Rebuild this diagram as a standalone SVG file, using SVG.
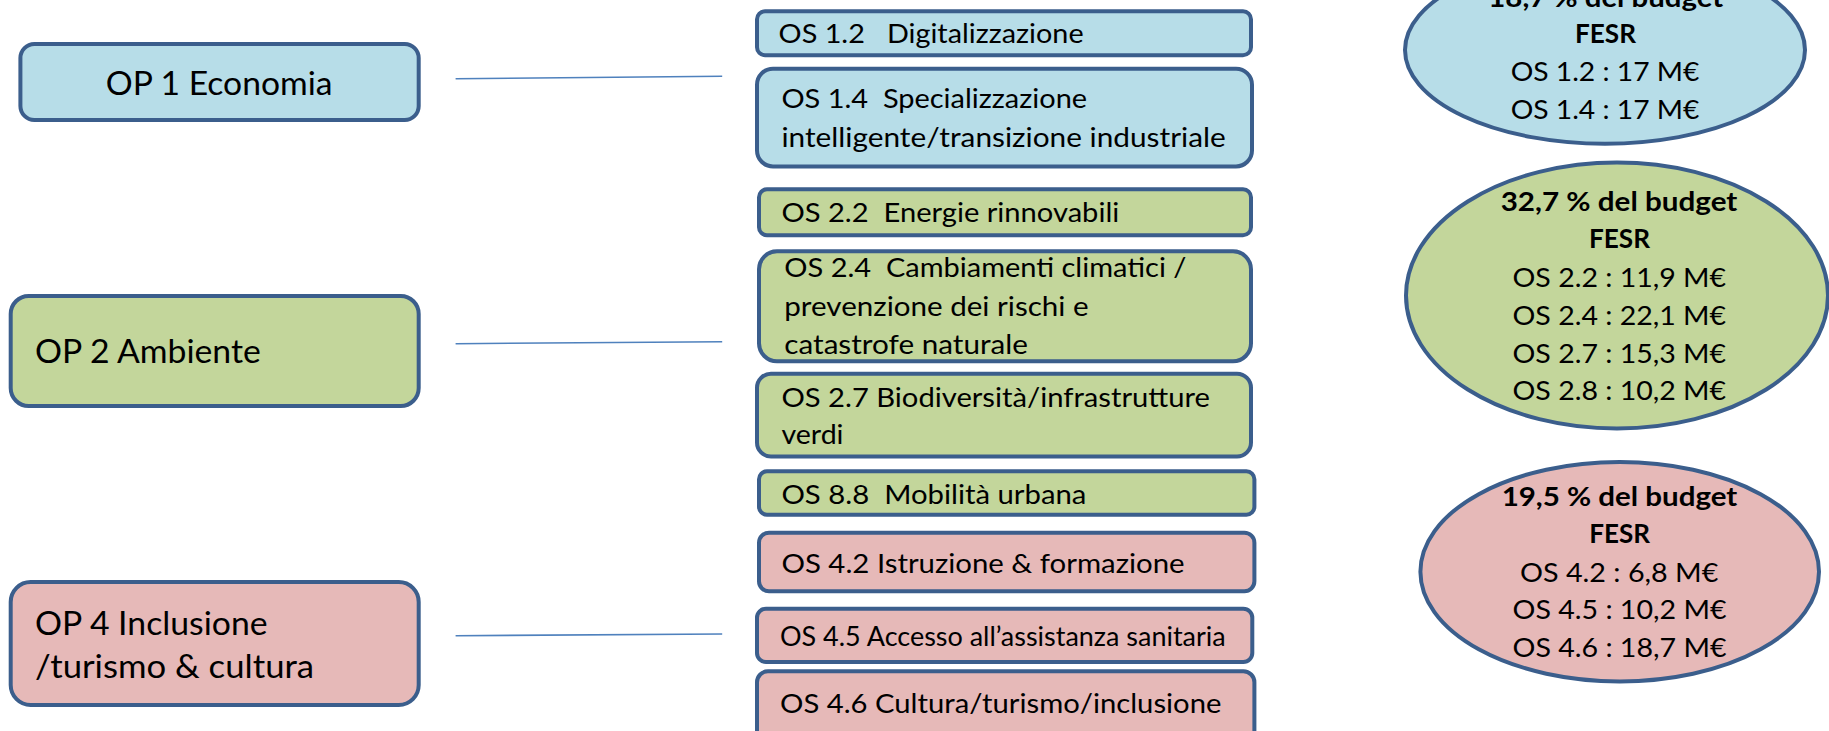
<svg xmlns="http://www.w3.org/2000/svg" width="1829" height="731" viewBox="0 0 1829 731">
<style>
.bx{stroke:#3b5e8c;stroke-width:4}
.blue{fill:#b7dde8}
.green{fill:#c3d69b}
.pink{fill:#e6b9b8}
text{font-family:Lato,"Open Sans","Liberation Sans",sans-serif;fill:#000}
.op{font-size:32px}
.os{font-size:27.5px}
.el{font-size:26.5px;text-anchor:middle}
.b{font-weight:bold}
.conn{stroke:#4f81bd;stroke-width:1.6;fill:none}
</style>
<rect width="1829" height="731" fill="#fff"/>
<g id="connectors">
<line class="conn" x1="455.6" y1="78.7" x2="722.2" y2="76.3"/>
<line class="conn" x1="455.6" y1="343.7" x2="722.2" y2="341.7"/>
<line class="conn" x1="455.6" y1="635.7" x2="722.2" y2="634"/>
</g>
<g id="op1">
<rect class="bx blue" x="20.4" y="44" width="398.3" height="76" rx="14"/>
<text class="op" x="105.7" y="95" textLength="226.8" lengthAdjust="spacingAndGlyphs">OP 1 Economia</text>
</g>
<g id="op2">
<rect class="bx green" x="10.7" y="296" width="408" height="110" rx="18"/>
<text class="op" x="34.9" y="363" textLength="225.9" lengthAdjust="spacingAndGlyphs">OP 2 Ambiente</text>
</g>
<g id="op4">
<rect class="bx pink" x="10.7" y="582" width="408" height="123" rx="20"/>
<text class="op" x="34.9" y="635" textLength="232.7" lengthAdjust="spacingAndGlyphs">OP 4 Inclusione</text>
<text class="op" x="34.9" y="678" textLength="279.2" lengthAdjust="spacingAndGlyphs">/turismo &amp; cultura</text>
</g>
<g id="os12">
<rect class="bx blue" x="757" y="11.3" width="494" height="44" rx="8"/>
<text class="os" x="778.6" y="43.3" textLength="305" lengthAdjust="spacingAndGlyphs" xml:space="preserve">OS 1.2   Digitalizzazione</text>
</g>
<g id="os14">
<rect class="bx blue" x="757" y="68.7" width="495" height="97.7" rx="16"/>
<text class="os" x="781.4" y="108.3" textLength="305.7" lengthAdjust="spacingAndGlyphs" xml:space="preserve">OS 1.4  Specializzazione</text>
<text class="os" x="781.4" y="146.7" textLength="444.3" lengthAdjust="spacingAndGlyphs">intelligente/transizione industriale</text>
</g>
<g id="os22">
<rect class="bx green" x="759" y="189.3" width="492" height="46" rx="8"/>
<text class="os" x="781.4" y="221.7" textLength="337.9" lengthAdjust="spacingAndGlyphs" xml:space="preserve">OS 2.2  Energie rinnovabili</text>
</g>
<g id="os24">
<rect class="bx green" x="759" y="251.3" width="492" height="110" rx="18"/>
<text class="os" x="784.3" y="277.3" textLength="402.1" lengthAdjust="spacingAndGlyphs" xml:space="preserve">OS 2.4  Cambiamenti climatici /</text>
<text class="os" x="784.3" y="315.5" textLength="304.3" lengthAdjust="spacingAndGlyphs">prevenzione dei rischi e</text>
<text class="os" x="784.3" y="354" textLength="243.6" lengthAdjust="spacingAndGlyphs">catastrofe naturale</text>
</g>
<g id="os27">
<rect class="bx green" x="757" y="373.7" width="494" height="82.7" rx="14"/>
<text class="os" x="781.4" y="406.7" textLength="428.6" lengthAdjust="spacingAndGlyphs">OS 2.7 Biodiversità/infrastrutture</text>
<text class="os" x="781.4" y="444" textLength="62.1" lengthAdjust="spacingAndGlyphs">verdi</text>
</g>
<g id="os88">
<rect class="bx green" x="759" y="471.3" width="495.4" height="43.4" rx="8"/>
<text class="os" x="781.4" y="504" textLength="305" lengthAdjust="spacingAndGlyphs" xml:space="preserve">OS 8.8  Mobilità urbana</text>
</g>
<g id="os42">
<rect class="bx pink" x="759" y="532.7" width="495.4" height="58.6" rx="10"/>
<text class="os" x="781.4" y="572.7" textLength="403.2" lengthAdjust="spacingAndGlyphs">OS 4.2 Istruzione &amp; formazione</text>
</g>
<g id="os45">
<rect class="bx pink" x="757" y="608.7" width="495.3" height="53.3" rx="9"/>
<text class="os" style="font-size:26px" x="780" y="646" textLength="445.7" lengthAdjust="spacingAndGlyphs">OS 4.5 Accesso all’assistanza sanitaria</text>
</g>
<g id="os46">
<rect class="bx pink" x="757" y="671.3" width="497.4" height="70" rx="11"/>
<text class="os" x="780" y="712.7" textLength="441.4" lengthAdjust="spacingAndGlyphs">OS 4.6 Cultura/turismo/inclusione</text>
</g>
<g id="budget1">
<ellipse class="bx blue" cx="1605" cy="50" rx="200" ry="93.7"/>
<text class="el b" x="1605.8" y="7" textLength="235" lengthAdjust="spacingAndGlyphs">18,7 % del budget</text>
<text class="el b" x="1605.5" y="42.7" textLength="61" lengthAdjust="spacingAndGlyphs">FESR</text>
<text class="el" x="1605" y="80.7" textLength="188.7" lengthAdjust="spacingAndGlyphs">OS 1.2 : 17 M€</text>
<text class="el" x="1605" y="119" textLength="188.7" lengthAdjust="spacingAndGlyphs">OS 1.4 : 17 M€</text>
</g>
<g id="budget2">
<ellipse class="bx green" cx="1617" cy="295.5" rx="211" ry="133"/>
<text class="el b" x="1619" y="210.7" textLength="236.7" lengthAdjust="spacingAndGlyphs">32,7 % del budget</text>
<text class="el b" x="1619.5" y="248.3" textLength="61" lengthAdjust="spacingAndGlyphs">FESR</text>
<text class="el" x="1619.3" y="287.3" textLength="213.5" lengthAdjust="spacingAndGlyphs">OS 2.2 : 11,9 M€</text>
<text class="el" x="1619.3" y="325" textLength="213.5" lengthAdjust="spacingAndGlyphs">OS 2.4 : 22,1 M€</text>
<text class="el" x="1619.3" y="362.7" textLength="213.5" lengthAdjust="spacingAndGlyphs">OS 2.7 : 15,3 M€</text>
<text class="el" x="1619.3" y="400" textLength="213.5" lengthAdjust="spacingAndGlyphs">OS 2.8 : 10,2 M€</text>
</g>
<g id="budget4">
<ellipse class="bx pink" cx="1619.7" cy="571.7" rx="199.3" ry="109.7"/>
<text class="el b" x="1619.5" y="506" textLength="235.7" lengthAdjust="spacingAndGlyphs">19,5 % del budget</text>
<text class="el b" x="1619.7" y="543.3" textLength="60.7" lengthAdjust="spacingAndGlyphs">FESR</text>
<text class="el" x="1619.2" y="581.7" textLength="198.3" lengthAdjust="spacingAndGlyphs">OS 4.2 : 6,8 M€</text>
<text class="el" x="1619.5" y="619.3" textLength="214" lengthAdjust="spacingAndGlyphs">OS 4.5 : 10,2 M€</text>
<text class="el" x="1619.5" y="657.3" textLength="214" lengthAdjust="spacingAndGlyphs">OS 4.6 : 18,7 M€</text>
</g>
</svg>
